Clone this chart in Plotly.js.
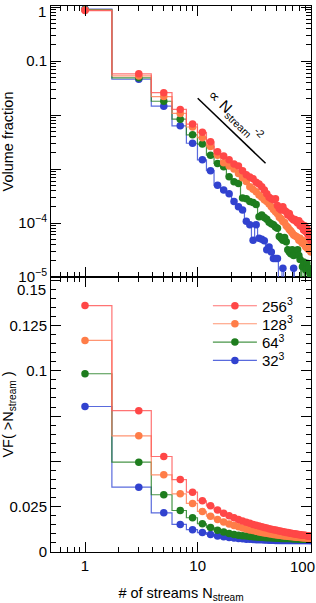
<!DOCTYPE html>
<html><head><meta charset="utf-8">
<script src="https://cdn.plot.ly/plotly-3.0.1.min.js"></script>
<style>html,body{margin:0;padding:0;background:#fff}#chart{width:316px;height:603px}</style>
</head><body><div id="chart"></div>
<script>
// Number of streams (odd values)
const nStream = [1,3,5,7,9,11,13,15,17,19,21,23,25,27,29,31,33,35,37,39,41,43,45,47,49,51,53,55,57,59,61,63,65,67,69,71,73,75,77,79,81,83,85,87,89,91,93,95,97,99,101];

// Top panel: volume fraction per stream number
const vf256 = [0.86,0.058,0.026,0.0127,0.0068,0.0048,0.0032,0.0021,0.00174,0.00148,0.00124,0.00114,0.00093,0.00078,0.00071,0.00066,0.00057,0.00053,0.00047,0.00041,0.00035,0.0003,0.00028,0.00027,0.00028,0.00021,0.000186,0.000174,0.0002,0.00017,0.000162,0.00014,0.00015,0.000128,0.00012,0.000114,0.000116,0.000107,0.0001,0.00011,0.000089,0.000097,0.000083,0.000074,0.000089,0.000069,0.00008,0.000061,0.000065,0.000053,0.000048];
const vf128 = [0.88,0.053,0.022,0.0107,0.006,0.0038,0.0026,0.0018,0.0013,0.00114,0.001,0.00083,0.00069,0.00059,0.00047,0.00042,0.00038,0.00033,0.0003,0.00027,0.00025,0.000224,0.0002,0.000178,0.000162,0.000148,0.000128,0.00012,0.000107,0.000102,0.000089,0.000083,0.000076,0.000071,0.000065,0.00006,0.000058,0.000056,0.000054,0.000048,0.000052,0.000045,0.000042,0.000047,0.000039,0.000036,0.000041,0.000033,0.000032,0.000035,0.000029];
const vf64 = [0.90,0.049,0.018,0.0084,0.0043,0.0029,0.0018,0.00127,0.0011,0.00072,0.00058,0.00054,0.00029,0.00028,0.00025,0.00024,0.00022,0.000131,0.000141,0.000126,0.000117,0.000103,0.000097,0.000093,0.000084,0.00008,0.000056,0.000052,0.000048,0.000054,0.000045,0.000032,0.000029,0.000027,0.000032,0.000025,0.000029,0.000027,0.000032,0.000025,0.000021,0,0.0000155,0.000019,0,0.0000135,0.000018,0,0.0000145,0.0000117,0];
const vf32 = [0.92,0.046,0.0146,0.0063,0.003,0.00148,0.00093,0.0005,0.00041,0.00035,0.00025,0.0002,0.000174,0.000108,0.000093,0.000048,0.000093,0.000052,0.00005,0.000047,0.000032,0.000036,0.000029,0.000022,0.000022,0.000022,0,0,0.0000145,0,0,0,0,0,0,0.0000145,0,0,0,0,0,0,0,0,0,0,0,0,0,0,0];

// Bottom panel: cumulative volume fraction VF(>N)
const cum256 = [0.136,0.078,0.0527,0.040,0.033,0.0283,0.0255,0.0232,0.0214,0.0200,0.0189,0.0179,0.0171,0.0164,0.0158,0.0152,0.0147,0.0143,0.0139,0.0135,0.0132,0.0129,0.0126,0.0123,0.0121,0.0118,0.0116,0.0114,0.0112,0.0110,0.0108,0.0107,0.0105,0.0104,0.0102,0.0101,0.0100,0.0099,0.0097,0.0096,0.0095,0.0094,0.0093,0.0092,0.0092,0.0091,0.0090,0.0089,0.0088,0.0088,0.0087];
const cum128 = [0.1168,0.0641,0.0426,0.0321,0.0268,0.0224,0.0198,0.0180,0.0166,0.0155,0.0146,0.0139,0.0133,0.0127,0.0122,0.0118,0.0114,0.0111,0.0108,0.0105,0.0103,0.0101,0.0099,0.0097,0.0095,0.0094,0.0092,0.0091,0.0090,0.0089,0.0088,0.0087,0.0086,0.0085,0.0084,0.0084,0.0083,0.0082,0.0082,0.0081,0.0080,0.0080,0.0079,0.0079,0.0078,0.0078,0.0077,0.0077,0.0076,0.0076,0.0075];
const cum64 = [0.0984,0.0496,0.0316,0.0229,0.0189,0.0156,0.0135,0.0120,0.0110,0.0102,0.0097,0.0093,0.0090,0.0088,0.0086,0.0084,0.0083,0.0082,0.0081,0.0080,0.0079,0.0078,0.0078,0.0077,0.0077,0.0076,0.0076,0.0075,0.0075,0.0075,0.0074,0.0074,0.0074,0.0074,0.0073,0.0073,0.0073,0.0073,0.0073,0.0072,0.0072,0.0072,0.0072,0.0072,0.0072,0.0072,0.0071,0.0071,0.0071,0.0071,0.0071];
const cum32 = [0.0803,0.0358,0.0216,0.0152,0.0123,0.0107,0.0097,0.0089,0.0084,0.0080,0.0077,0.0075,0.0073,0.0071,0.0070,0.0069,0.0068,0.0067,0.0067,0.0066,0.0066,0.0065,0.0065,0.0065,0.0064,0.0064,0.0064,0.0064,0.0064,0.0063,0.0063,0.0063,0.0063,0.0063,0.0063,0.0063,0.0063,0.0063,0.0063,0.0063,0.0063,0.0063,0.0063,0.0063,0.0063,0.0063,0.0063,0.0063,0.0063,0.0063,0.0063];

// Reference power law  ∝ N^-2
const refLineN = [10, 40];
const refLineVF = [0.0204, 0.00128];

const seriesNames = ['256<sup>3</sup>','128<sup>3</sup>','64<sup>3</sup>','32<sup>3</sup>'];
const markerColors = ['#ff4747','#ff7d48','#1e7d1e','#3142cf'];
const lineColors = ['rgba(255,90,90,0.85)','rgba(255,130,90,0.85)','rgba(40,130,40,0.85)','rgba(60,80,215,0.85)'];

const xTickVals = [1,10,100];
const xTickText = ['1','10',''];
const yTopTickVals = [1e-5,1e-4,1e-3,1e-2,0.1,1];
const yTopTickText = ['10<sup>−5</sup>','10<sup>−4</sup>','','','0.1',''];
const yBotTickVals = [0,0.025,0.05,0.075,0.1,0.125,0.15];
const yBotTickText = ['0','0.025','','','0.1','0.125',''];

// minor tick positions
const xMinor = [];
[0.1,1,10].forEach(d => { for (let m=2;m<=9;m++) xMinor.push(m*d); });
const yTopMinor = [];
[1e-5,1e-4,1e-3,1e-2,0.1].forEach(d => { for (let m=2;m<=9;m++) yTopMinor.push(m*d); });
const yBotMinor = [];
for (let k=1;k<=30;k++) if (k%5) yBotMinor.push(k*0.005);

const topVals = [vf256, vf128, vf64, vf32];
const botVals = [cum256, cum128, cum64, cum32];
const legendIds = ['legend','legend2','legend3','legend4'];
const FONT = 'Liberation Sans, Arial, Helvetica, sans-serif';
const W = 316, H = 603, ML = 51, MR = 5, MT = 6, MB = 51, PH = H - MT - MB, PW = W - ML - MR;
const pxToPaperY = py => (H - MB - py) / PH;
const pxToPaperX = px => (px - ML) / PW;

const traces = [];
[3,2,1,0].forEach(i => {
  traces.push({
    x: nStream, y: topVals[i].map(v => v > 0 ? v : 1e-9),
    xaxis: 'x2', yaxis: 'y', type: 'scatter', mode: 'lines+markers',
    line: {shape: 'hvh', color: lineColors[i], width: 1.2},
    marker: {color: markerColors[i], size: 7.5},
    showlegend: false, name: seriesNames[i], hoverinfo: 'skip'
  });
});
[3,2,1,0].forEach(i => {
  traces.push({
    x: nStream, y: botVals[i],
    xaxis: 'x', yaxis: 'y2', type: 'scatter', mode: 'lines+markers',
    line: {shape: 'hvh', color: lineColors[i], width: 1.2},
    marker: {color: markerColors[i], size: 7.5},
    showlegend: true, legend: legendIds[i], name: seriesNames[i], hoverinfo: 'skip'
  });
});
traces.push({
  x: refLineN, y: refLineVF, xaxis: 'x2', yaxis: 'y', type: 'scatter', mode: 'lines',
  line: {color: '#000', width: 1.5}, showlegend: false, hoverinfo: 'skip'
});

const common = {
  showline: true, linecolor: '#000', linewidth: 1, mirror: 'allticks',
  ticks: 'inside', ticklen: 10, tickwidth: 1, tickcolor: '#000',
  showgrid: false, zeroline: false, tickfont: {family: FONT, size: 15, color: '#000'},
  tickmode: 'array', ticklabeloverflow: 'allow'
};
const minorStyle = (vals) => ({tickmode: 'array', tickvals: vals, ticks: 'inside', ticklen: 5, tickwidth: 1, tickcolor: '#000', showgrid: false});
const xRange = [-0.3017, 2.0053];

const legendRows = [306, 324, 342.3, 360.7];
const makeLegend = (row) => ({
  x: 0.6035, y: pxToPaperY(row), xanchor: 'left', yanchor: 'middle', itemwidth: 44,
  bgcolor: 'rgba(0,0,0,0)', font: {family: FONT, size: 15, color: '#000'}
});

const tickAnno = (text, px, py, xanchor) => ({
  xref: 'paper', yref: 'paper', x: pxToPaperX(px), y: pxToPaperY(py), xanchor: xanchor, yanchor: 'middle',
  text: text, showarrow: false, font: {family: FONT, size: 15, color: '#000'}
});

const layout = {
  width: W, height: H,
  margin: {l: ML, r: MR, t: MT, b: MB, pad: 0},
  paper_bgcolor: '#fff', plot_bgcolor: '#fff',
  font: {family: FONT, size: 15, color: '#000'},
  showlegend: true,
  legend: makeLegend(legendRows[0]),
  legend2: makeLegend(legendRows[1]),
  legend3: makeLegend(legendRows[2]),
  legend4: makeLegend(legendRows[3]),
  xaxis: Object.assign({}, common, {
    type: 'log', range: xRange, anchor: 'y2', tickvals: xTickVals, ticktext: xTickText,
    minor: minorStyle(xMinor),
    title: {text: '# of streams N<sub>stream</sub>', font: {family: FONT, size: 14.5, color: '#000'}}
  }),
  xaxis2: Object.assign({}, common, {
    type: 'log', range: xRange, anchor: 'y', tickvals: xTickVals, ticktext: xTickText,
    showticklabels: false, minor: minorStyle(xMinor)
  }),
  yaxis: Object.assign({}, common, {
    type: 'log', range: [-5, 0.02], domain: [0.5037, 1], anchor: 'x2',
    tickvals: yTopTickVals, ticktext: yTopTickText, minor: minorStyle(yTopMinor),
    title: {text: 'Volume fraction', font: {family: FONT, size: 14.5, color: '#000'}}
  }),
  yaxis2: Object.assign({}, common, {
    range: [0, 0.1518], domain: [0, 0.5037], anchor: 'x',
    tickvals: yBotTickVals, ticktext: yBotTickText, minor: minorStyle(yBotMinor),
    title: {text: 'VF( >N<sub>stream</sub> )', font: {family: FONT, size: 14.5, color: '#000'}}
  }),
  annotations: [
    {xref: 'paper', yref: 'paper', x: 0.712, y: 0.8, xanchor: 'center', yanchor: 'middle',
     text: '∝ N<sub>stream</sub><sup>-2</sup>', textangle: 44, showarrow: false,
     font: {family: FONT, size: 15, color: '#000'}},
    // edge tick labels, nudged inward as in the original figure
    tickAnno('1', 47.5, 12, 'right'),
    tickAnno('0.15', 47.5, 290, 'right'),
    tickAnno('100', 302, 566, 'center')
  ]
};

Plotly.newPlot('chart', traces, layout, {displayModeBar: false, staticPlot: true});
</script>
</body></html>
